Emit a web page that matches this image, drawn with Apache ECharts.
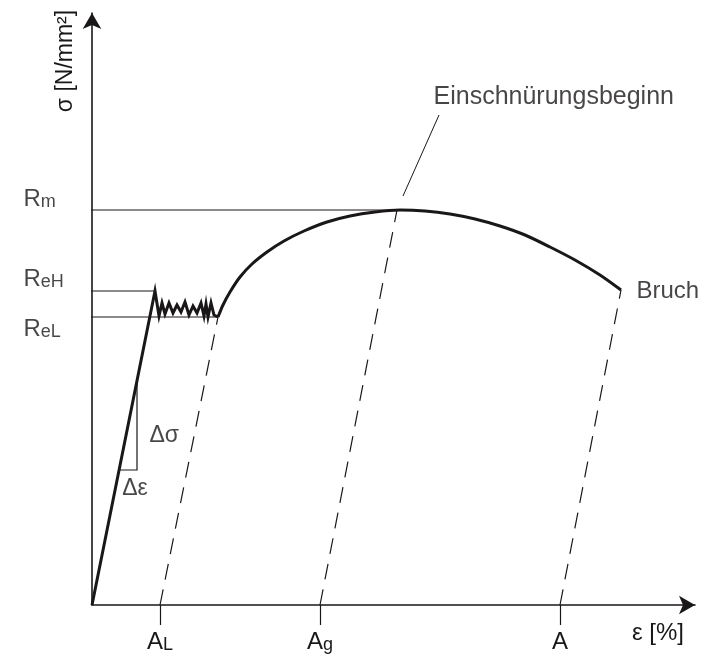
<!DOCTYPE html>
<html><head><meta charset="utf-8">
<script src="https://cdn.jsdelivr.net/npm/echarts@6/dist/echarts.min.js"></script>
<style>html,body{margin:0;padding:0;background:#fff}#c{width:718px;height:659px}</style>
</head><body><div id="c"></div>
<script>
// ---- data (strain / stress in picture units) ----
const elasticAndYield = [[0,0],[63,314],[67,289],[70,302],[73,291],[77,302],[81,292],[85,300],[89,293],[93,303],[97,290],[101,299],[105,292],[109,302],[112,289],[114,301],[116,288],[119,302],[122,290],[126,288]];
const hardeningCurve = [[126,288],[131,300],[138,313],[148,328],[160,341],[175,353],[192,364],[212,374],[235,383],[258,389],[283,393],[308,395],[333,394],[358,391],[383,386],[408,379],[433,370],[458,358],[483,345],[508,330],[529,315]];
const unloadAL = [[68,0],[126,288]];
const unloadAg = [[228,0],[305,395]];
const unloadA = [[468,0],[529,315]];
const strainTicks = [68, 228, 468];
const strainTickSubs = ['L', 'g', ''];
const stressLevels = [395, 314, 288];
const stressLevelSubs = ['m', 'eH', 'eL'];
const stressLevelEnds = [308, 63, 126];
const slopeTriangle = [[27,135],[45,135],[45,224]];
const neckingLeader = [[311,409],[347,490]];
const xMax = 603, yMax = 592;

const ink = '#1a1718';
const font = "'Liberation Sans', Arial, Helvetica, sans-serif";
const refStart = -17;

function seg(data, width, type) {
  return {
    type: 'line', data: data, symbol: 'none', silent: true, clip: false,
    animation: false, z: width > 2 ? 5 : 3,
    lineStyle: {color: ink, width: width, type: type || 'solid', cap: 'butt', join: 'miter'}
  };
}

const series = [];
series.push(seg(elasticAndYield, 3));
series.push(Object.assign(seg(hardeningCurve, 3), {smooth: 0.25}));
[unloadAL, unloadAg, unloadA].forEach(d => series.push(seg(d, 1.2, [16, 10])));
stressLevels.forEach((v, i) => series.push(seg([[refStart, v], [stressLevelEnds[i], v]], 1.2)));
series.push(seg(slopeTriangle, 1.2));
series.push(seg(neckingLeader, 1));

const subRich = {
  r: {fontSize: 24, lineHeight: 28, verticalAlign: 'bottom', fontFamily: font, color: ink},
  s: {fontSize: 18, lineHeight: 15, verticalAlign: 'bottom', fontFamily: font, color: ink}
};
const rOffsets = [-12.5, -13.5, 10.5];

const annotations = [];
stressLevels.forEach((v, i) => annotations.push({
  value: [refStart, v],
  label: {show: true, position: 'left', align: 'left', distance: 51, offset: [0, rOffsets[i]],
    formatter: '{r|R}{s|' + stressLevelSubs[i] + '}', rich: subRich}
}));
const last = hardeningCurve[hardeningCurve.length - 1];
annotations.push({value: last, label: {show: true, position: 'right', distance: 15, offset: [0, 1], formatter: 'Bruch', fontSize: 24}});
annotations.push({value: neckingLeader[1], label: {show: true, position: 'right', distance: 0, offset: [-6, -18], formatter: 'Einschnürungsbeginn', fontSize: 25}});
annotations.push({value: [slopeTriangle[1][0], (slopeTriangle[1][1] + slopeTriangle[2][1]) / 2], label: {show: true, position: 'right', distance: 12, offset: [0, 10], formatter: 'Δσ', fontSize: 23}});
annotations.push({value: [(slopeTriangle[0][0] + slopeTriangle[1][0]) / 2, slopeTriangle[0][1]], label: {show: true, position: 'bottom', distance: 7, offset: [7, 0], formatter: 'Δε', fontSize: 23}});

series.push({
  type: 'scatter', data: annotations, symbolSize: 1, silent: true, clip: false, animation: false,
  itemStyle: {color: 'rgba(0,0,0,0)'},
  label: {show: true, color: ink, fontFamily: font}
});

const chart = echarts.init(document.getElementById('c'), null, {renderer: 'canvas'});
chart.setOption({
  backgroundColor: '#ffffff',
  animation: false,
  textStyle: {fontFamily: font, color: ink},
  grid: {left: 92, right: 23, top: 13, bottom: 54, containLabel: false, outerBoundsMode: 'none'},
  xAxis: {
    type: 'value', min: 0, max: xMax,
    axisLine: {show: true, onZero: true, symbol: ['none', 'arrow'], symbolSize: [14, 16], lineStyle: {color: ink, width: 1.6}},
    axisTick: {show: true, customValues: strainTicks, length: 20, inside: false, lineStyle: {color: ink, width: 1.2}},
    axisLabel: {
      show: true, customValues: strainTicks, margin: 21, hideOverlap: false,
      formatter: function (v) {
        const i = strainTicks.indexOf(v);
        const sub = i >= 0 ? strainTickSubs[i] : '';
        return '{r|A}' + (sub ? '{s|' + sub + '}' : '');
      },
      rich: subRich
    },
    splitLine: {show: false},
    name: 'ε [%]', nameLocation: 'end', nameGap: -37, nameMoveOverlap: false,
    nameTextStyle: {fontSize: 24, fontFamily: font, color: ink, align: 'center', verticalAlign: 'top', padding: [16, 0, 0, 0]}
  },
  yAxis: {
    type: 'value', min: 0, max: yMax,
    axisLine: {show: true, onZero: true, symbol: ['none', 'arrow'], symbolSize: [14, 16], lineStyle: {color: ink, width: 1.6}},
    axisTick: {show: false},
    axisLabel: {show: false},
    splitLine: {show: false},
    name: 'σ [N/mm²]', nameLocation: 'end', nameGap: -48, nameRotate: 90, nameMoveOverlap: false,
    nameTextStyle: {fontSize: 23, fontFamily: font, color: ink, align: 'center', verticalAlign: 'bottom', padding: [0, 0, 15, 0]}
  },
  series: series
});
</script>
</body></html>
